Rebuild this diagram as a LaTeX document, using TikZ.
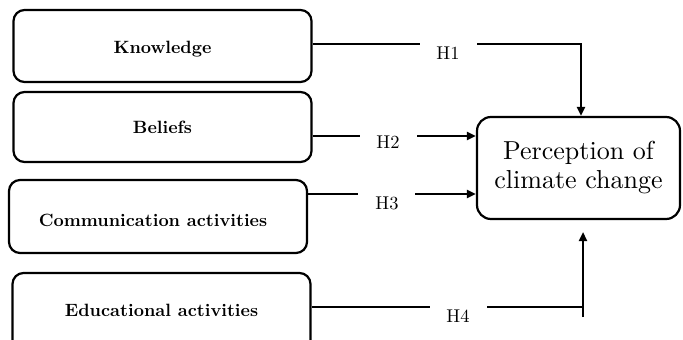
\documentclass[tikz,border=0pt]{standalone}
\usepackage{fontspec}
\setmainfont{lmroman10-regular.otf}[BoldFont=lmroman10-bold.otf]
\usetikzlibrary{arrows.meta,calc}
\begin{document}
\begin{tikzpicture}[x=1pt,y=-1pt,
  box/.style={draw, line width=2.2pt, rounded corners=11pt, minimum width=298pt,
    font=\fontsize{17.8}{20}\selectfont\bfseries, inner sep=0pt},
  percbox/.style={draw, line width=2.2pt, rounded corners=14pt, minimum width=203pt,
    minimum height=102pt, align=center, font=\fontsize{26}{29}\selectfont, inner sep=0pt},
  hyp/.style={font=\fontsize{18.5}{20}\selectfont, inner sep=0pt},
  link/.style={line width=2.2pt},
  arr/.style={link, -{Triangle[length=9pt,width=8pt]}}]
\useasboundingbox (0,0) rectangle (683,340);
\clip (0,0) rectangle (683,340);
% boxes
\node[box, minimum height=72pt, text height=16pt, text depth=1pt] (know) at (162.5,46) {Knowledge};
\node[box, minimum height=70pt] (bel) at (162.5,127) {Beliefs};
\node[box, minimum height=73pt, text height=20pt, text depth=0.6pt] (comm) at (158,216.5) {\hspace*{-10pt}Communication activities};
\node[box, minimum height=80pt, text height=9pt, text depth=2.6pt] (edu) at (161.5,313) {Educational activities};
\node[percbox] (perc) at (578.5,168) {Perception of\\climate change};
% hypothesis labels
\node[hyp] (h1) at (448,53) {H1};
\node[hyp] (h2) at (388,142) {H2};
\node[hyp] (h3) at (387,203) {H3};
\node[hyp] (h4) at (458,316) {H4};
% gap coordinates
\coordinate (a1) at (420,44);  \coordinate (b1) at (477,44);
\coordinate (a2) at (360,136); \coordinate (b2) at (417,136);
\coordinate (a3) at (358,194); \coordinate (b3) at (415,194);
\coordinate (a4) at (430,307); \coordinate (b4) at (487,307);
\coordinate (c4) at (583,307); \coordinate (s4) at (583,317);
\coordinate (t4) at (583,232);
% connectors
\draw[link] (know.east |- a1) -- (a1);
\draw[arr] (b1) -| ([xshift=2.5pt]perc.north);
\draw[link] (bel.east |- a2) -- (a2);
\draw[arr] (b2) -- (perc.west |- b2);
\draw[link] (comm.east |- a3) -- (a3);
\draw[arr] (b3) -- (perc.west |- b3);
\draw[link] (edu.east |- a4) -- (a4);
\draw[link] (b4) -- (c4);
\draw[arr] (s4) -- (t4);
\end{tikzpicture}
\end{document}
